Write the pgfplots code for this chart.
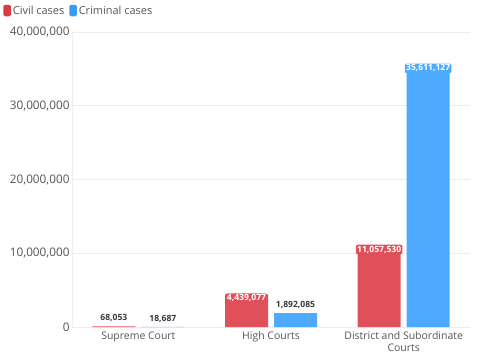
\documentclass[border=0pt]{standalone}
\usepackage{pgfplots}
\pgfplotsset{compat=1.18}
\usepackage{fontspec}
\setmainfont{Open Sans}
\definecolor{civil}{HTML}{E0505A}
\definecolor{crim}{HTML}{4DAAFF}
\definecolor{civilL}{HTML}{D93A45}
\definecolor{crimL}{HTML}{3A9BF5}
\definecolor{txt}{HTML}{555555}
\definecolor{lbl}{HTML}{3A3A3A}
\definecolor{gridc}{HTML}{EDEDED}
\begin{document}
\begin{tikzpicture}
\path[use as bounding box] (0bp,0bp) rectangle (485bp,362bp);
\begin{axis}[
  at={(72bp,35bp)}, anchor=south west,
  scale only axis, width=398bp, height=295bp,
  xmin=-0.5, xmax=2.5, ymin=0, ymax=40000000,
  xtick={0,1,2},
  xticklabels={Supreme Court, High Courts, {District and Subordinate\\Courts}},
  ytick={0,10000000,20000000,30000000,40000000},
  scaled y ticks=false,
  yticklabel style={/pgf/number format/fixed, /pgf/number format/1000 sep={,}},
  /pgf/number format/assume math mode=true,
  tick label style={text=txt},
  x tick label style={font=\fontsize{10.5}{12.5}\selectfont, align=center, yshift=-1bp},
  y tick label style={font=\fontsize{11.8}{13}\selectfont, xshift=1bp},
  major tick length=0pt,
  axis x line*=bottom, axis y line*=left,
  axis line style={draw=gridc, line width=0.8bp},
  ymajorgrids, grid style={draw=gridc, line width=0.7bp},
  bar width=43bp,
  legend style={at={(-0.173,1.096)}, anchor=north west, draw=none, fill=none,
    inner sep=0pt, font=\fontsize{11}{12}\selectfont, text=txt,
    legend columns=2, /tikz/every even column/.append style={column sep=3bp},
    legend cell align=left},
  outlab/.style={nodes near coords={\pgfplotspointmeta}, point meta=explicit symbolic,
    nodes near coords style={font=\bfseries\fontsize{8.6}{10}\selectfont, text=lbl, anchor=south, yshift=1bp, xshift=#1}},
  inlab/.style 2 args={nodes near coords={\pgfplotspointmeta}, point meta=explicit symbolic,
    nodes near coords style={font=\bfseries\fontsize{8.6}{10}\selectfont, text=white, fill=#1,
      rounded corners=2bp, inner sep=1.2bp, anchor=north, yshift=1bp, xshift=#2}},
]
\addplot[ybar, bar shift=-24.5bp, fill=civil, draw=none,
  legend image code/.code={\fill[civilL, rounded corners=1.5bp] (0bp,-5.5bp) rectangle (7.5bp,6bp);}]
  coordinates {(0,68053) (1,4439077) (2,11057530)};
\addlegendentry{Civil cases}
\addplot[ybar, bar shift=24.5bp, fill=crim, draw=none,
  legend image code/.code={\fill[crimL, rounded corners=1.5bp] (0bp,-5.5bp) rectangle (7.5bp,6bp);}]
  coordinates {(0,18687) (1,1892085) (2,35611127)};
\addlegendentry{Criminal cases}
% labels
\addplot[ybar, bar shift=-24.5bp, draw=none, fill=none, forget plot, outlab=-24.5bp]
  coordinates {(0,68053) [68,053]};
\addplot[ybar, bar shift=-24.5bp, draw=none, fill=none, forget plot, inlab={civil}{-24.5bp}]
  coordinates {(1,4439077) [4,439,077] (2,11057530) [11,057,530]};
\addplot[ybar, bar shift=24.5bp, draw=none, fill=none, forget plot, outlab=24.5bp]
  coordinates {(0,18687) [18,687] (1,1892085) [1,892,085]};
\addplot[ybar, bar shift=24.5bp, draw=none, fill=none, forget plot, inlab={crim}{24.5bp}]
  coordinates {(2,35611127) [35,611,127]};
\end{axis}
\end{tikzpicture}
\end{document}
